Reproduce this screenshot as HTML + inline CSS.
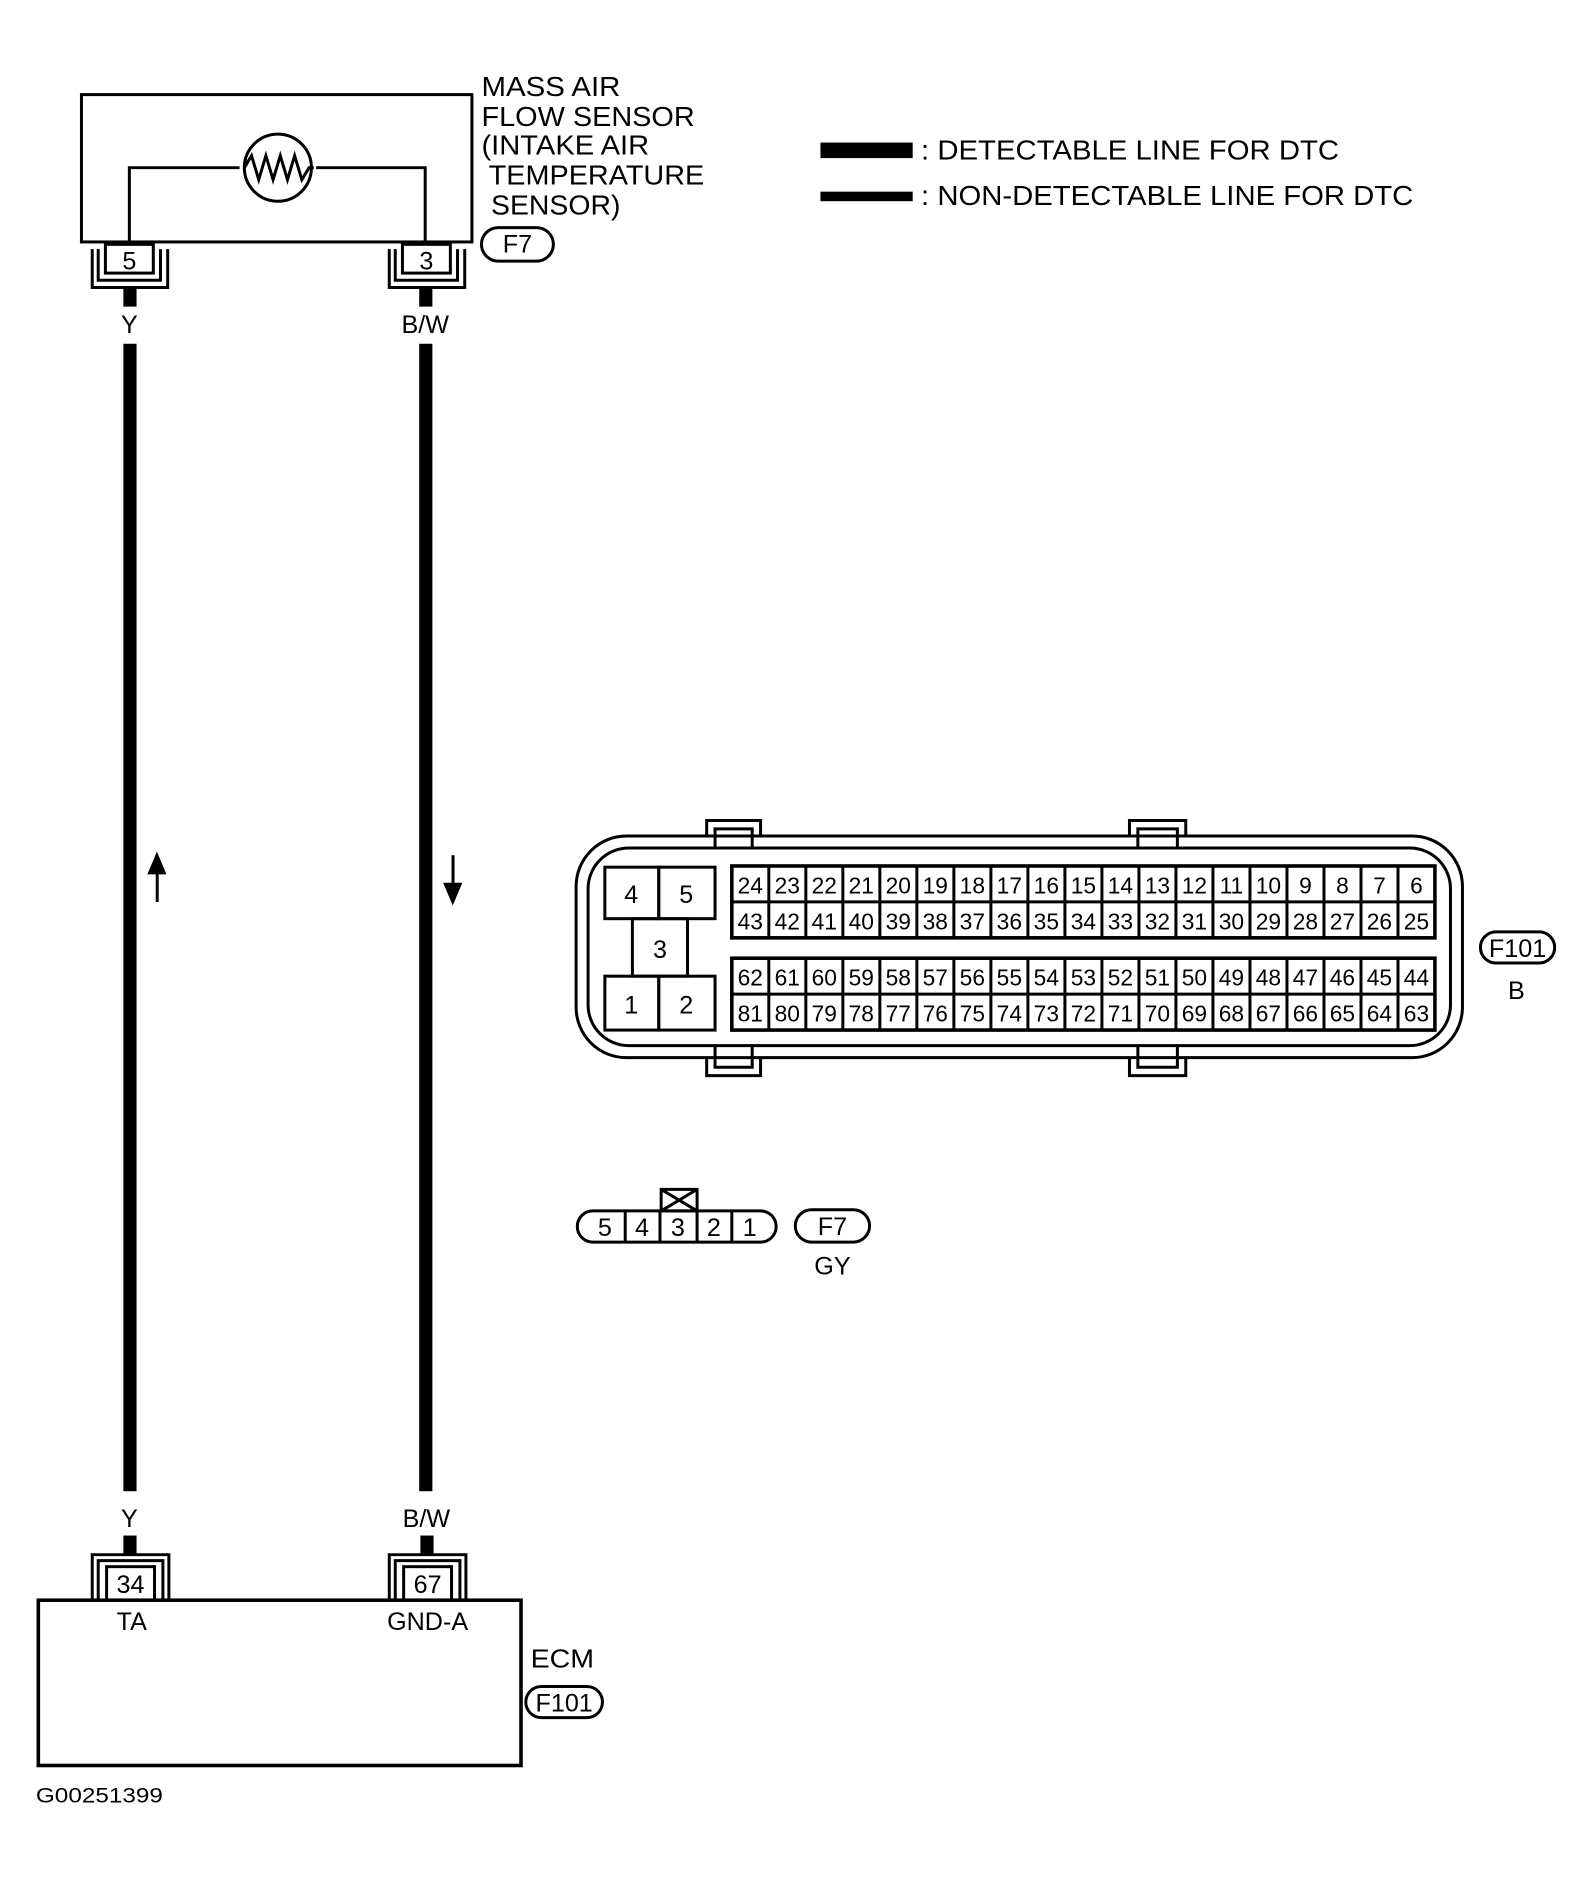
<!DOCTYPE html>
<html><head><meta charset="utf-8"><style>
html,body{margin:0;padding:0;background:#fff;}
svg{display:block;}
text{font-family:"Liberation Sans",sans-serif;fill:#000;}
</style></head><body>
<svg width="1593" height="1880" viewBox="0 0 1330 1569.6" preserveAspectRatio="none" xmlns="http://www.w3.org/2000/svg">
<g fill="none" stroke="#000" stroke-width="2.5">
<rect x="68" y="79" width="326" height="123"/>
<polyline points="108,202 108,140 200,140"/>
<polyline points="264,140 355,140 355,202"/>
<circle cx="232" cy="140" r="28"/>
<polyline points="204,140 210,130 216,150 222,130 228,150 234,130 240,150 246,130 252,150 258,140 262,140"/>
<rect x="88" y="204" width="40" height="24"/>
<polyline points="77,208 77,240 140,240 140,208"/>
<polyline points="82,208 82,234 134,234 134,208"/>
<rect x="336" y="204" width="40" height="24"/>
<polyline points="325,208 325,240 388,240 388,208"/>
<polyline points="330,208 330,234 382,234 382,208"/>
<rect x="402" y="190" width="60" height="28" rx="14"/>
<rect x="89" y="1308" width="40" height="28"/>
<polyline points="77,1335 77,1298 141,1298 141,1335"/>
<polyline points="82,1335 82,1303 136,1303 136,1335"/>
<rect x="337" y="1308" width="40" height="28"/>
<polyline points="325,1335 325,1298 389,1298 389,1335"/>
<polyline points="330,1335 330,1303 384,1303 384,1335"/>
<rect x="32" y="1336" width="403" height="138" stroke-width="3"/>
<rect x="439" y="1408" width="64" height="26" rx="13"/>
<rect x="481" y="698" width="740" height="185" rx="42"/>
<rect x="491" y="708" width="720" height="165" rx="34"/>
<polyline points="590,698 590,685 635,685 635,698"/>
<polyline points="597,708 597,692 628,692 628,708"/>
<polyline points="943,698 943,685 990,685 990,698"/>
<polyline points="950,708 950,692 983,692 983,708"/>
<polyline points="590,883 590,898 635,898 635,883"/>
<polyline points="597,873 597,891 628,891 628,873"/>
<polyline points="943,883 943,898 990,898 990,883"/>
<polyline points="950,873 950,891 983,891 983,873"/>
<rect x="505" y="724" width="45" height="43"/>
<rect x="550" y="724" width="47" height="43"/>
<rect x="528" y="767" width="46" height="48"/>
<rect x="505" y="815" width="45" height="45"/>
<rect x="550" y="815" width="47" height="45"/>
<rect x="611" y="723" width="587" height="60" stroke-width="3"/>
<line x1="611" y1="753" x2="1198" y2="753"/>
<rect x="611" y="800" width="587" height="60" stroke-width="3"/>
<line x1="611" y1="830" x2="1198" y2="830"/>
<path d="M641.9,723V783M672.8,723V783M703.7,723V783M734.6,723V783M765.5,723V783M796.4,723V783M827.3,723V783M858.2,723V783M889.1,723V783M920,723V783M950.9,723V783M981.8,723V783M1012.7,723V783M1043.6,723V783M1074.5,723V783M1105.4,723V783M1136.3,723V783M1167.2,723V783"/>
<path d="M641.9,800V860M672.8,800V860M703.7,800V860M734.6,800V860M765.5,800V860M796.4,800V860M827.3,800V860M858.2,800V860M889.1,800V860M920,800V860M950.9,800V860M981.8,800V860M1012.7,800V860M1043.6,800V860M1074.5,800V860M1105.4,800V860M1136.3,800V860M1167.2,800V860"/>
<rect x="1236" y="778" width="62" height="26" rx="13"/>
<rect x="482" y="1011" width="166" height="26" rx="13"/>
<path d="M522,1011V1037M551,1011V1037M582,1011V1037M611,1011V1037"/>
<rect x="552" y="993" width="30" height="18"/>
<path d="M552,993L582,1011M582,993L552,1011"/>
<rect x="664" y="1010" width="62" height="27" rx="13.5"/>
</g>
<g fill="#000">
<rect x="103" y="240" width="11" height="16"/>
<rect x="103" y="287" width="11" height="958"/>
<rect x="350" y="240" width="11" height="16"/>
<rect x="350" y="287" width="11" height="958"/>
<rect x="103" y="1282" width="11" height="16"/>
<rect x="351" y="1282" width="11" height="16"/>
<rect x="685" y="119" width="77" height="13"/>
<rect x="685" y="160" width="77" height="8"/>
<rect x="130" y="727" width="2.5" height="26"/>
<polygon points="123,730 131,711 139,730"/>
<rect x="377" y="714" width="2.5" height="26"/>
<polygon points="370,737 378,756 386,737"/>
</g>
<g font-size="23">
<text x="402" y="80" textLength="116" lengthAdjust="spacingAndGlyphs">MASS AIR</text>
<text x="402" y="105" textLength="178" lengthAdjust="spacingAndGlyphs">FLOW SENSOR</text>
<text x="402" y="129" textLength="140" lengthAdjust="spacingAndGlyphs">(INTAKE AIR</text>
<text x="408" y="154" textLength="180" lengthAdjust="spacingAndGlyphs">TEMPERATURE</text>
<text x="410" y="179" textLength="108" lengthAdjust="spacingAndGlyphs">SENSOR)</text>
<text x="769" y="133" textLength="349" lengthAdjust="spacingAndGlyphs">: DETECTABLE LINE FOR DTC</text>
<text x="769" y="171" textLength="411" lengthAdjust="spacingAndGlyphs">: NON-DETECTABLE LINE FOR DTC</text>
</g>
<g font-size="21" text-anchor="middle">
<text x="432" y="211">F7</text>
<text x="108" y="225">5</text>
<text x="356" y="225">3</text>
<text x="108" y="278">Y</text>
<text x="355" y="278">B/W</text>
<text x="108" y="1275">Y</text>
<text x="356" y="1275">B/W</text>
<text x="109" y="1330">34</text>
<text x="357" y="1330">67</text>
<text x="110" y="1361">TA</text>
<text x="357" y="1361">GND-A</text>
<text x="471" y="1429">F101</text>
<text x="1267" y="799">F101</text>
<text x="1266" y="834">B</text>
<text x="527" y="754">4</text>
<text x="573" y="754">5</text>
<text x="551" y="800">3</text>
<text x="527" y="846">1</text>
<text x="573" y="846">2</text>
<text x="505" y="1032">5</text>
<text x="536" y="1032">4</text>
<text x="566" y="1032">3</text>
<text x="596" y="1032">2</text>
<text x="626" y="1032">1</text>
<text x="695" y="1031">F7</text>
<text x="695" y="1064">GY</text>
</g>
<text x="443" y="1392" font-size="22" textLength="53" lengthAdjust="spacingAndGlyphs">ECM</text>
<text x="30" y="1505" font-size="18" textLength="106" lengthAdjust="spacingAndGlyphs">G00251399</text>
<g font-size="19" text-anchor="middle">
<text y="746"><tspan x="626.4">24</tspan><tspan x="657.3">23</tspan><tspan x="688.2">22</tspan><tspan x="719.1">21</tspan><tspan x="750">20</tspan><tspan x="780.9">19</tspan><tspan x="811.8">18</tspan><tspan x="842.7">17</tspan><tspan x="873.6">16</tspan><tspan x="904.5">15</tspan><tspan x="935.4">14</tspan><tspan x="966.3">13</tspan><tspan x="997.2">12</tspan><tspan x="1028.1">11</tspan><tspan x="1059">10</tspan><tspan x="1089.9">9</tspan><tspan x="1120.8">8</tspan><tspan x="1151.7">7</tspan><tspan x="1182.6">6</tspan></text>
<text y="776"><tspan x="626.4">43</tspan><tspan x="657.3">42</tspan><tspan x="688.2">41</tspan><tspan x="719.1">40</tspan><tspan x="750">39</tspan><tspan x="780.9">38</tspan><tspan x="811.8">37</tspan><tspan x="842.7">36</tspan><tspan x="873.6">35</tspan><tspan x="904.5">34</tspan><tspan x="935.4">33</tspan><tspan x="966.3">32</tspan><tspan x="997.2">31</tspan><tspan x="1028.1">30</tspan><tspan x="1059">29</tspan><tspan x="1089.9">28</tspan><tspan x="1120.8">27</tspan><tspan x="1151.7">26</tspan><tspan x="1182.6">25</tspan></text>
<text y="823"><tspan x="626.4">62</tspan><tspan x="657.3">61</tspan><tspan x="688.2">60</tspan><tspan x="719.1">59</tspan><tspan x="750">58</tspan><tspan x="780.9">57</tspan><tspan x="811.8">56</tspan><tspan x="842.7">55</tspan><tspan x="873.6">54</tspan><tspan x="904.5">53</tspan><tspan x="935.4">52</tspan><tspan x="966.3">51</tspan><tspan x="997.2">50</tspan><tspan x="1028.1">49</tspan><tspan x="1059">48</tspan><tspan x="1089.9">47</tspan><tspan x="1120.8">46</tspan><tspan x="1151.7">45</tspan><tspan x="1182.6">44</tspan></text>
<text y="853"><tspan x="626.4">81</tspan><tspan x="657.3">80</tspan><tspan x="688.2">79</tspan><tspan x="719.1">78</tspan><tspan x="750">77</tspan><tspan x="780.9">76</tspan><tspan x="811.8">75</tspan><tspan x="842.7">74</tspan><tspan x="873.6">73</tspan><tspan x="904.5">72</tspan><tspan x="935.4">71</tspan><tspan x="966.3">70</tspan><tspan x="997.2">69</tspan><tspan x="1028.1">68</tspan><tspan x="1059">67</tspan><tspan x="1089.9">66</tspan><tspan x="1120.8">65</tspan><tspan x="1151.7">64</tspan><tspan x="1182.6">63</tspan></text>
</g>
</svg>
</body></html>
